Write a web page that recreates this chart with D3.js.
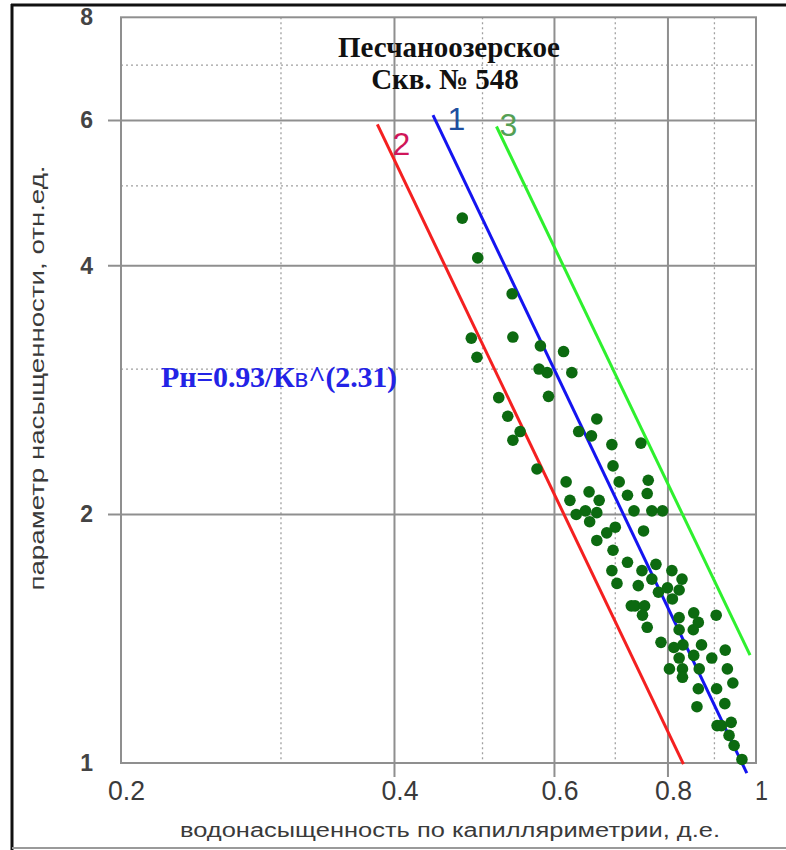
<!DOCTYPE html>
<html>
<head>
<meta charset="utf-8">
<script src="https://cdn.jsdelivr.net/npm/d3@7"></script>
<style>
  body { margin: 0; background: #fff; }
  svg { display: block; }
</style>
</head>
<body>
<div id="chart"></div>
<script>
// samples: Кв (x) and Рн (y)
var kv = [0.475, 0.494, 0.539, 0.486, 0.540, 0.493, 0.579, 0.614, 0.577, 0.589,
          0.627, 0.521, 0.591, 0.533, 0.550, 0.540, 0.668, 0.638, 0.659, 0.694,
          0.747, 0.574, 0.696, 0.707, 0.761, 0.618, 0.655, 0.722, 0.759, 0.624,
          0.672, 0.634, 0.649, 0.668, 0.734, 0.768, 0.789, 0.656, 0.700, 0.685,
          0.752, 0.668, 0.696, 0.722, 0.776, 0.694, 0.749, 0.808, 0.768, 0.829,
          0.703, 0.742, 0.799, 0.823, 0.781, 0.809, 0.729, 0.736, 0.754, 0.750,
          0.823, 0.854, 0.904, 0.759, 0.823, 0.853, 0.864, 0.786, 0.812, 0.831,
          0.871, 0.925, 0.823, 0.854, 0.894, 0.803, 0.830, 0.866, 0.930, 0.830,
          0.943, 0.864, 0.905, 0.924, 0.861, 0.906, 0.916, 0.939, 0.934, 0.946,
          0.965];
var pn = [4.57, 4.09, 3.70, 3.27, 3.28, 3.10, 3.20, 3.15, 3.00, 2.97,
          2.97, 2.77, 2.78, 2.63, 2.52, 2.46, 2.61, 2.52, 2.49, 2.43,
          2.44, 2.27, 2.29, 2.19, 2.20, 2.19, 2.13, 2.11, 2.12, 2.08,
          2.08, 2.00, 2.02, 2.01, 2.02, 2.02, 2.02, 1.96, 1.93, 1.90,
          1.91, 1.86, 1.81, 1.75, 1.74, 1.71, 1.71, 1.71, 1.67, 1.67,
          1.65, 1.64, 1.63, 1.62, 1.61, 1.58, 1.55, 1.55, 1.55, 1.51,
          1.50, 1.52, 1.51, 1.46, 1.45, 1.45, 1.48, 1.40, 1.38, 1.39,
          1.39, 1.37, 1.34, 1.35, 1.34, 1.30, 1.30, 1.30, 1.30, 1.27,
          1.25, 1.23, 1.23, 1.18, 1.17, 1.11, 1.11, 1.12, 1.08, 1.05,
          1.01];

// the three straight lines (end points) and their numbers
var lineNames = ["1", "2", "3"];
var lineKv = [[0.441, 0.977], [0.383, 0.832], [0.518, 0.985]];
var linePn = [[6.09, 0.972], [5.935, 0.997], [5.90, 1.351]];
var lineColors = ["#1414f0", "#f42020", "#2ef02e"];
var nameColors = ["#1f4f9f", "#d0165a", "#55a055"];

// ticks
var xLabels = [0.2, 0.4, 0.6, 0.8, 1];
var xMajor = [0.4, 0.6, 0.8];
var xMinor = [0.3, 0.5, 0.7, 0.9];
var yLabels = [1, 2, 4, 6, 8];
var yMajor = [2, 4, 6];
var yMinor = [3, 5, 7];

var W = 786, H = 850;
var plot = {left: 121, right: 756, top: 17.3, bottom: 763};

var svg = d3.select("#chart").append("svg")
  .attr("width", W)
  .attr("height", H);

svg.append("rect").attr("width", W).attr("height", H).attr("fill", "#fff");

var x = d3.scaleLog().domain([0.2, 1]).range([plot.left, plot.right]);
var y = d3.scaleLog().domain([1, 8]).range([plot.bottom, plot.top]);

// dotted minor grid
svg.append("g").selectAll("line").data(xMinor).enter().append("line")
  .attr("x1", d => x(d)).attr("x2", d => x(d))
  .attr("y1", plot.top).attr("y2", plot.bottom)
  .attr("stroke", "#a0a0a0").attr("stroke-width", 1.3)
  .attr("stroke-dasharray", "2,3");
svg.append("g").selectAll("line").data(yMinor).enter().append("line")
  .attr("x1", plot.left).attr("x2", plot.right)
  .attr("y1", d => y(d)).attr("y2", d => y(d))
  .attr("stroke", "#a0a0a0").attr("stroke-width", 1.3)
  .attr("stroke-dasharray", "2,3");

// solid major grid, poking out as ticks
svg.append("g").selectAll("line").data(xMajor).enter().append("line")
  .attr("x1", d => x(d)).attr("x2", d => x(d))
  .attr("y1", plot.top).attr("y2", plot.bottom + 14)
  .attr("stroke", "#8f8f8f").attr("stroke-width", 2);
svg.append("g").selectAll("line").data(yMajor).enter().append("line")
  .attr("x1", plot.left - 13).attr("x2", plot.right)
  .attr("y1", d => y(d)).attr("y2", d => y(d))
  .attr("stroke", "#8f8f8f").attr("stroke-width", 2);

// plot frame
svg.append("rect")
  .attr("x", plot.left).attr("y", plot.top)
  .attr("width", plot.right - plot.left).attr("height", plot.bottom - plot.top)
  .attr("fill", "none").attr("stroke", "#8f8f8f").attr("stroke-width", 2);

// outer frame
svg.append("line").attr("x1", 12).attr("x2", 12).attr("y1", 4).attr("y2", H)
  .attr("stroke", "#111").attr("stroke-width", 3);
svg.append("line").attr("x1", 11).attr("x2", W).attr("y1", 5).attr("y2", 5)
  .attr("stroke", "#111").attr("stroke-width", 3);
svg.append("line").attr("x1", 12).attr("x2", W).attr("y1", 848).attr("y2", 848)
  .attr("stroke", "#9a9a9a").attr("stroke-width", 2);

// axis labels
var xAxis = d3.axisBottom(x).tickValues(xLabels).tickSize(0)
  .tickFormat(d => d === 1 ? "1" : d3.format(".1f")(d));
svg.append("g")
  .attr("transform", "translate(5," + (plot.bottom + 14) + ")")
  .call(xAxis)
  .call(g => g.select(".domain").remove())
  .selectAll("text")
    .attr("font-family", "'Liberation Sans', Arial, sans-serif")
    .attr("font-size", 28)
    .attr("textLength", d => d === 1 ? 13 : 37)
    .attr("lengthAdjust", "spacingAndGlyphs")
    .attr("fill", "#3a3a3a");

var yAxis = d3.axisLeft(y).tickValues(yLabels).tickSize(0).tickFormat(d3.format("d"));
svg.append("g")
  .attr("transform", "translate(" + (plot.left - 25) + ",0)")
  .call(yAxis)
  .call(g => g.select(".domain").remove())
  .selectAll("text")
    .attr("font-family", "'Liberation Sans', Arial, sans-serif")
    .attr("font-weight", "bold")
    .attr("font-size", 23)
    .attr("fill", "#444");

// fit lines
var line = d3.line().x(d => x(d[0])).y(d => y(d[1]));
lineNames.forEach(function(name, i) {
  svg.append("path")
    .datum(d3.zip(lineKv[i], linePn[i]))
    .attr("d", line)
    .attr("fill", "none")
    .attr("stroke", lineColors[i])
    .attr("stroke-width", 3);
});

// samples
svg.append("g").selectAll("circle")
  .data(d3.zip(kv, pn))
  .enter().append("circle")
    .attr("cx", d => x(d[0]))
    .attr("cy", d => y(d[1]))
    .attr("r", 5.8)
    .attr("fill", "#0c6a10");

// numbers next to the lines
var namePos = [[0.468, 5.85], [0.407, 5.45], [0.534, 5.75]];
svg.append("g").selectAll("text").data(lineNames).enter().append("text")
  .attr("x", (d, i) => x(namePos[i][0]))
  .attr("y", (d, i) => y(namePos[i][1]))
  .attr("text-anchor", "middle")
  .attr("font-family", "'Liberation Sans', Arial, sans-serif")
  .attr("font-size", 32)
  .attr("fill", (d, i) => nameColors[i])
  .text(d => d);

// title
var title = svg.append("text")
  .attr("text-anchor", "middle")
  .attr("font-family", "'Liberation Serif', 'Times New Roman', serif")
  .attr("font-weight", "bold")
  .attr("font-size", 29)
  .attr("letter-spacing", 0)
  .attr("fill", "#111");
title.append("tspan").attr("x", 449).attr("y", 57).text("Песчаноозерское");
title.append("tspan").attr("x", 445).attr("y", 89).text("Скв. № 548");

// equation
var eq = svg.append("text")
  .attr("x", 161).attr("y", 387)
  .attr("font-family", "'Liberation Serif', 'Times New Roman', serif")
  .attr("font-weight", "bold")
  .attr("font-size", 30)
  .attr("letter-spacing", -0.2)
  .attr("fill", "#2323e6");
eq.append("tspan").text("Рн=0.93/К");
eq.append("tspan")
  .attr("font-family", "'Liberation Sans', Arial, sans-serif")
  .attr("font-weight", "normal")
  .attr("font-size", 26)
  .attr("letter-spacing", 0)
  .text("в");
eq.append("tspan").text("^(2.31)");

// axis titles
svg.append("text")
  .attr("x", 450).attr("y", 837)
  .attr("text-anchor", "middle")
  .attr("font-family", "'Liberation Sans', Arial, sans-serif")
  .attr("font-size", 20)
  .attr("textLength", 540)
  .attr("lengthAdjust", "spacingAndGlyphs")
  .attr("fill", "#3a3a3a")
  .text("водонасыщенность по капилляриметрии, д.е.");

svg.append("text")
  .attr("transform", "translate(44,378) rotate(-90)")
  .attr("text-anchor", "middle")
  .attr("font-family", "'Liberation Sans', Arial, sans-serif")
  .attr("font-size", 20)
  .attr("textLength", 425)
  .attr("lengthAdjust", "spacingAndGlyphs")
  .attr("fill", "#3a3a3a")
  .text("параметр насыщенности,  отн.ед.");
</script>
</body>
</html>
